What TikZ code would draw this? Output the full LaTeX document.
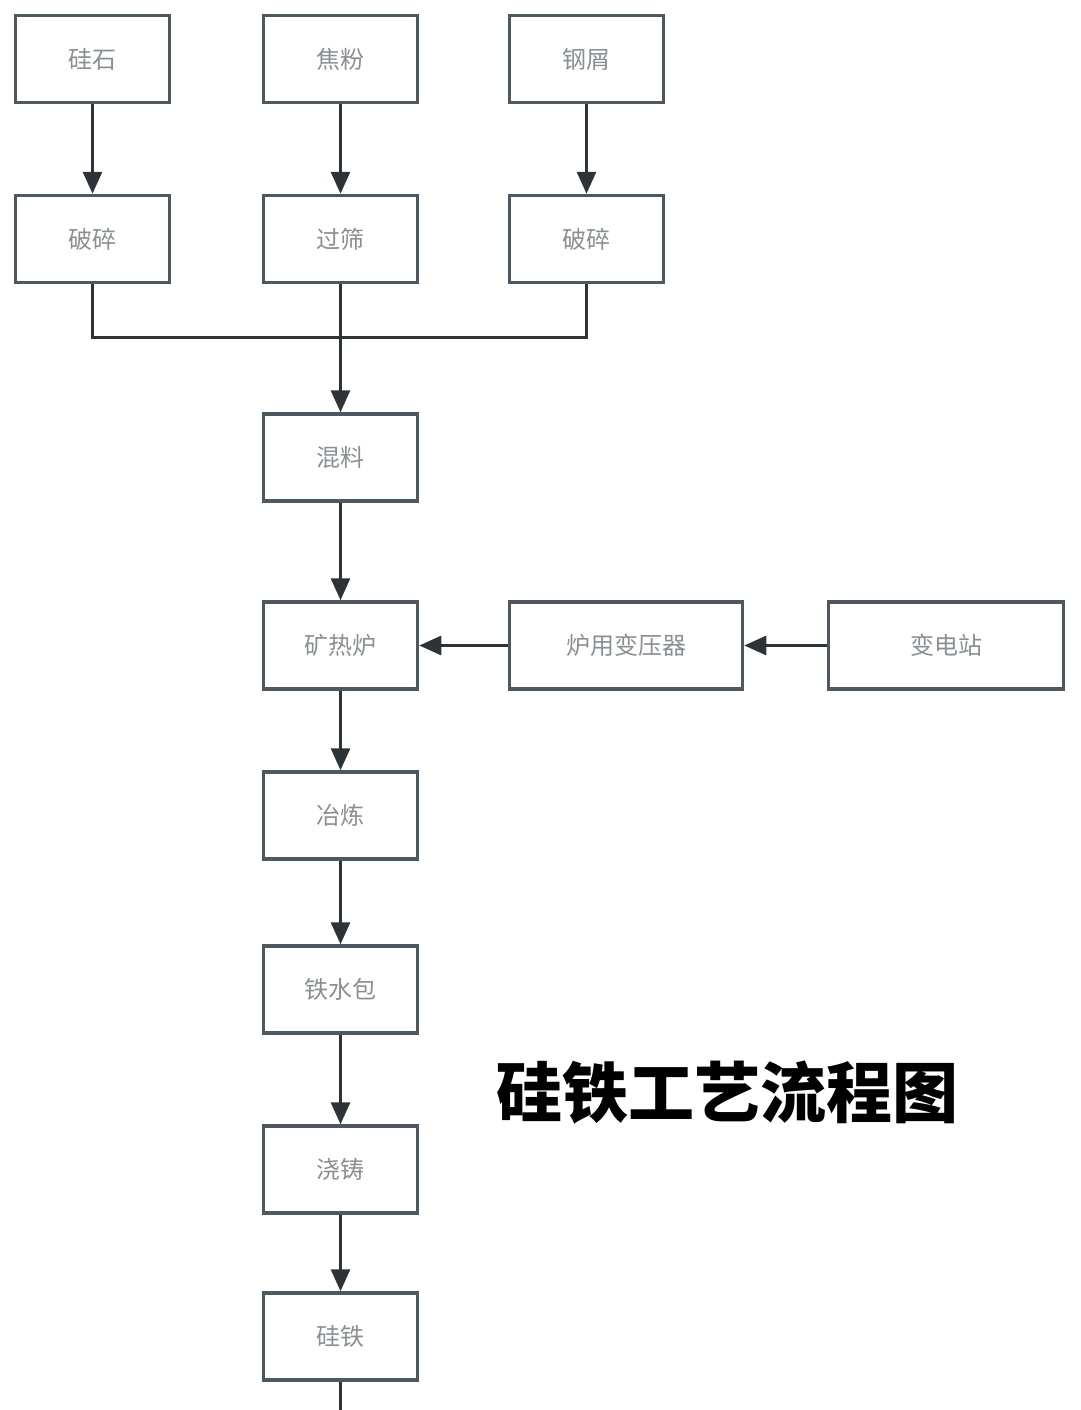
\documentclass[tikz,border=0pt]{standalone}
\usepackage{fontspec}
\newfontfamily\cjk{Noto Sans CJK SC}
\newfontfamily\cjkbold{Noto Sans CJK SC Black}
\usetikzlibrary{arrows.meta}
\definecolor{boxline}{HTML}{4D5860}
\definecolor{boxtext}{HTML}{8A8F94}
\definecolor{arrowc}{HTML}{2E3338}
\begin{document}
\begin{tikzpicture}[x=1pt,y=-1pt,
  procbox/.style={draw=boxline,line width=3.5pt,fill=white,text=boxtext,
    font=\cjk\fontsize{24}{28}\selectfont,inner sep=0pt,
    minimum width=154pt,minimum height=87pt},
  flow/.style={draw=arrowc,line width=3pt,-{Triangle[length=22pt,width=19pt]}},
  plain/.style={draw=arrowc,line width=3pt}]
\useasboundingbox (0,0) rectangle (1080,1410);
\fill[white] (0,0) rectangle (1080,1410);
% row 1
\node[procbox] (gs) at (92.5,59) {硅石};
\node[procbox] (jf) at (340.5,59) {焦粉};
\node[procbox] (gx) at (586.5,59) {钢屑};
% row 2
\node[procbox] (ps1) at (92.5,239) {破碎};
\node[procbox] (gsh) at (340.5,239) {过筛};
\node[procbox] (ps2) at (586.5,239) {破碎};
% main column
\node[procbox] (hl) at (340.5,457.5) {混料};
\node[procbox] (krl) at (340.5,645.5) {矿热炉};
\node[procbox,minimum width=233pt] (byq) at (626,645.5) {炉用变压器};
\node[procbox,minimum width=235pt] (bdz) at (946,645.5) {变电站};
\node[procbox] (yl) at (340.5,815.5) {冶炼};
\node[procbox] (tsb) at (340.5,989.5) {铁水包};
\node[procbox] (jz) at (340.5,1169.5) {浇铸};
\node[procbox] (gt) at (340.5,1336.5) {硅铁};
\coordinate (merge) at (340.5,337);
\coordinate (endpt) at (340.5,1412);
% connectors
\draw[flow] (gs.south) -- (ps1.north);
\draw[flow] (jf.south) -- (gsh.north);
\draw[flow] (gx.south) -- (ps2.north);
\draw[plain] (ps1.south) |- (merge) -| (ps2.south);
\draw[flow] (gsh.south) -- (hl.north);
\draw[flow] (hl.south) -- (krl.north);
\draw[flow] (byq.west) -- (krl.east);
\draw[flow] (bdz.west) -- (byq.east);
\draw[flow] (krl.south) -- (yl.north);
\draw[flow] (yl.south) -- (tsb.north);
\draw[flow] (tsb.south) -- (jz.north);
\draw[flow] (jz.south) -- (gt.north);
\draw[plain] (gt.south) -- (endpt);
% title
\node[font=\cjkbold\fontsize{66}{72}\selectfont,text=black] (title) at (727,1093) {硅铁工艺流程图};
\end{tikzpicture}
\end{document}
